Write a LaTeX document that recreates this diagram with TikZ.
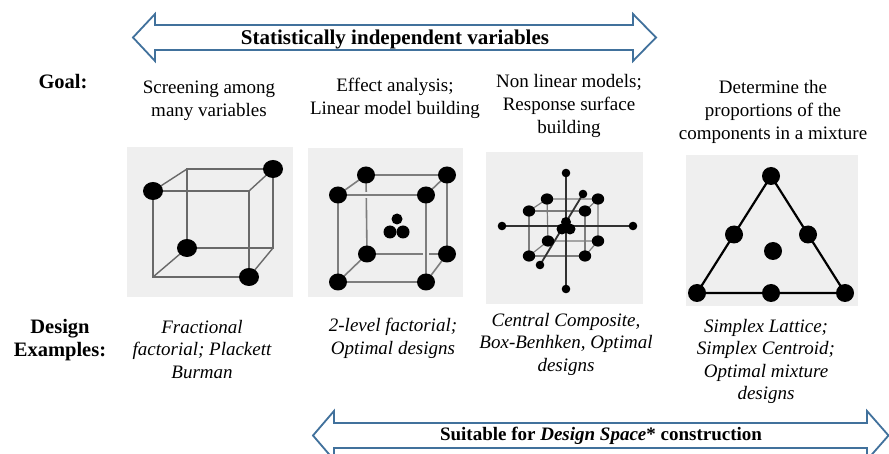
\documentclass[tikz,border=0pt]{standalone}
\usepackage{fontspec}
\setmainfont{Liberation Serif}
\usetikzlibrary{calc}
\definecolor{arrowblue}{RGB}{65,113,156}
\definecolor{panelgray}{RGB}{239,239,239}
\definecolor{edgegray}{RGB}{105,105,105}
\definecolor{lightedge}{RGB}{125,125,125}
\definecolor{axisgray}{RGB}{50,50,50}
\begin{document}
\begin{tikzpicture}[x=1pt,y=-1pt,
  bandarrow/.style={draw=arrowblue, line width=1.8pt, fill=white, line join=miter},
  bandlabel/.style={font=\bfseries\fontsize{21}{24}\selectfont, inner sep=0},
  rowlabel/.style={font=\bfseries\fontsize{20.5}{22.5}\selectfont, align=center, inner sep=0},
  goaltext/.style={font=\fontsize{19}{23}\selectfont, align=center, inner sep=0},
  exampletext/.style={font=\itshape\fontsize{19}{22.5}\selectfont, align=center, inner sep=0},
  panel/.style={fill=panelgray},
  cubeedge/.style={draw=edgegray, line width=1.4pt},
  gappededge/.style={draw=lightedge, line width=1.6pt,
    preaction={draw=panelgray, line width=6pt}},
  ccdedge/.style={draw=lightedge, line width=1.2pt},
  ccdaxis/.style={draw=axisgray, line width=1.8pt},
  simplexedge/.style={draw=black, line width=2.2pt, line join=round}
]
\clip (0,0) rectangle (889,454);
\fill[white] (0,0) rectangle (889,454);

% ---- double arrow bands ----
\draw[bandarrow] (133,37.5) -- (155,14) -- (155,25) -- (633,25) -- (633,14)
  -- (656,37.5) -- (633,61) -- (633,50) -- (155,50) -- (155,61) -- cycle;
\node[bandlabel] (topband) at (395,39) {Statistically independent variables};

\draw[bandarrow] (313,435.5) -- (334,411) -- (334,423) -- (867,423) -- (867,411)
  -- (888.5,435.5) -- (867,460) -- (867,448) -- (334,448) -- (334,460) -- cycle;
\node[bandlabel, font=\bfseries\fontsize{19}{22}\selectfont] (bottomband) at (601,436)
  {Suitable for \textit{Design Space}* construction};

% ---- row labels ----
\node[rowlabel] (goal) at (63,82) {Goal:};
\node[rowlabel] (design) at (60,340) {Design\\Examples:};

% ---- goals ----
\node[goaltext] (goal1) at (209,100.5) {Screening among\\many variables};
\node[goaltext] (goal2) at (395,98.5) {Effect analysis;\\Linear model building};
\node[goaltext] (goal3) at (569,106) {Non linear models;\\Response surface\\building};
\node[goaltext] (goal4) at (773,111.5) {Determine the\\proportions of the\\components in a mixture};

% ---- design examples ----
\node[exampletext] (ex1) at (202,349.5) {Fractional\\factorial; Plackett\\Burman};
\node[exampletext] (ex2) at (393,338.5) {2-level factorial;\\Optimal designs};
\node[exampletext] (ex3) at (566,344) {Central Composite,\\Box-Benhken, Optimal\\designs};
\node[exampletext] (ex4) at (766,361.5) {Simplex Lattice;\\Simplex Centroid;\\Optimal mixture\\designs};

% ---- panel 1: fractional factorial cube ----
\fill[panel] (127,147) rectangle (293,297);
\coordinate (a1) at (153,191);
\coordinate (a2) at (249,191);
\coordinate (a3) at (249,277);
\coordinate (a4) at (153,277);
\coordinate (b1) at (187,169);
\coordinate (b2) at (273,169);
\coordinate (b3) at (273,248);
\coordinate (b4) at (187,248);
\draw[cubeedge] (b1) -- (b2) -- (b3) -- (b4) -- cycle;
\draw[cubeedge] (a1) -- (a2) -- (a3) -- (a4) -- cycle;
\draw[cubeedge] (a1) -- (b1) (a2) -- (b2) (a3) -- (b3) (a4) -- (b4);
\foreach \p in {a1,b2,b4,a3}
  \fill (\p) circle[x radius=10pt, y radius=9pt];

% ---- panel 2: two-level factorial cube with centre points ----
\fill[panel] (308,148) rectangle (463,297);
\coordinate (c1) at (338,195);
\coordinate (c2) at (426,195);
\coordinate (c3) at (426,282);
\coordinate (c4) at (338,282);
\coordinate (d1) at (366,175);
\coordinate (d2) at (447,175);
\coordinate (d3) at (447,254);
\coordinate (d4) at (367,254);
\draw[gappededge] (d1) -- (d2) -- (d3) -- (d4) -- cycle;
\draw[gappededge] (c1) -- (d1) (c2) -- (d2) (c3) -- (d3) (c4) -- (d4);
\draw[gappededge] (c1) -- (c2) -- (c3) -- (c4) -- cycle;
\foreach \p in {c1,c2,c3,c4,d1,d2,d3,d4}
  \fill (\p) circle[x radius=9pt, y radius=8.5pt];
\fill (397,219) circle[radius=5.5pt];
\fill (390,232) circle[radius=6.5pt];
\fill (403,232) circle[radius=6.5pt];

% ---- panel 3: central composite design ----
\fill[panel] (486,152) rectangle (643,304);
\coordinate (e1) at (529,211);
\coordinate (e2) at (585,211);
\coordinate (e3) at (585,256);
\coordinate (e4) at (529,256);
\coordinate (f1) at (547,199);
\coordinate (f2) at (598,199);
\coordinate (f3) at (598,241);
\coordinate (f4) at (548,241);
\coordinate (vt) at (566,173);
\coordinate (vb) at (566,289);
\coordinate (hl) at (502,226);
\coordinate (hr) at (633,226);
\coordinate (dl) at (540,265);
\coordinate (du) at (583,194);
\draw[ccdedge] (f1) -- (f2) -- (f3) -- (f4) -- cycle;
\draw[ccdedge] (e1) -- (f1) (e2) -- (f2) (e3) -- (f3) (e4) -- (f4);
\draw[ccdedge] (e1) -- (e2) -- (e3) -- (e4) -- cycle;
\draw[ccdaxis] (vt) -- (vb) (hl) -- (hr) (dl) -- (du);
\foreach \p in {e1,e2,e3,e4,f1,f2,f3,f4}
  \fill (\p) circle[x radius=6.2pt, y radius=5.6pt];
\foreach \p in {vt,vb,hl,hr,dl,du}
  \fill (\p) circle[radius=4.3pt];
\fill (566,222) circle[radius=5pt];
\fill (562,229) circle[radius=5.5pt];
\fill (570,229) circle[radius=5.5pt];

% ---- panel 4: simplex mixture design ----
\fill[panel] (686,155) rectangle (858,306);
\coordinate (t1) at (771,176);
\coordinate (t2) at (697,293);
\coordinate (t3) at (845,293);
\draw[simplexedge] (t1) -- (t2) -- (t3) -- cycle;
\foreach \p in {t1,t2,t3}
  \fill (\p) circle[radius=9pt];
\fill ($(t1)!0.5!(t2)$) circle[radius=9pt];
\fill ($(t1)!0.5!(t3)$) circle[radius=9pt];
\fill ($(t2)!0.5!(t3)$) circle[radius=9pt];
\fill (773,251) circle[radius=9pt];
\end{tikzpicture}
\end{document}
